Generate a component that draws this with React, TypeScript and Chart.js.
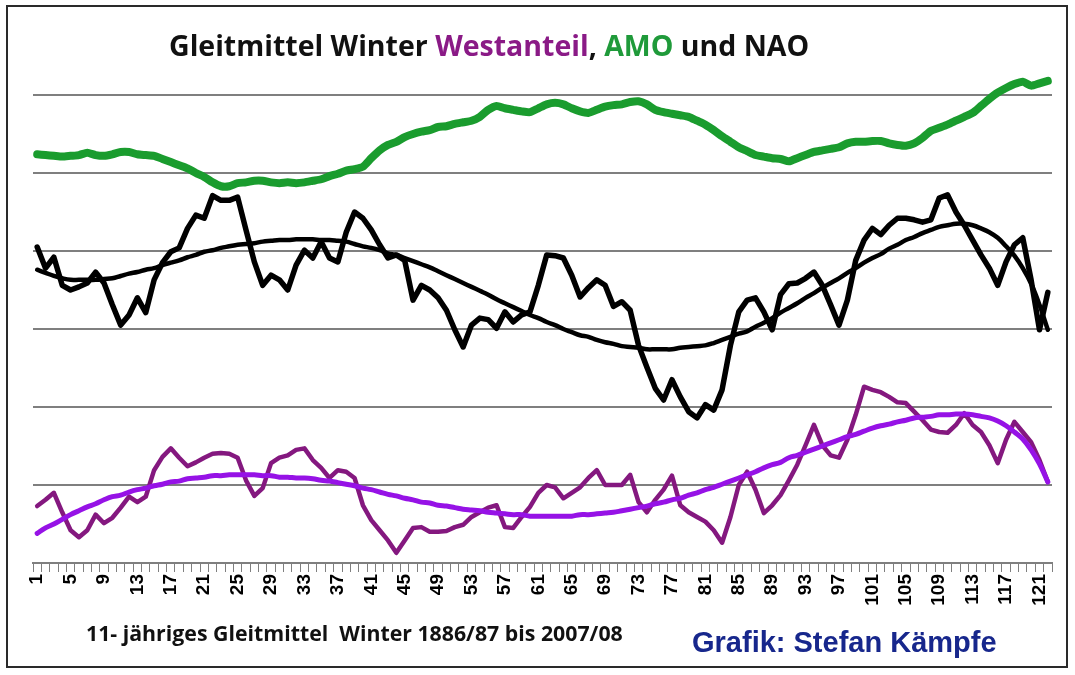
import React, { useEffect, useRef } from "react";
import { Chart, registerables } from "chart.js";

Chart.register(...registerables);

// 122 winters (11-year moving averages), category index 1..122
const categories: string[] = Array.from({ length: 122 }, (_, i) => String(i + 1));
const tickLabels: string[] = ["1", "5", "9", "13", "17", "21", "25", "29", "33", "37", "41", "45", "49", "53", "57", "61", "65", "69", "73", "77", "81", "85", "89", "93", "97", "101", "105", "109", "113", "117", "121"];

// values in chart units (one gridline step = 1)
const amo: number[] = [
  5.24, 5.23, 5.22, 5.21, 5.22, 5.23, 5.26, 5.23, 5.22, 5.24,
  5.27, 5.27, 5.24, 5.23, 5.22, 5.18, 5.14, 5.10, 5.06, 5.00,
  4.95, 4.88, 4.83, 4.83, 4.87, 4.88, 4.90, 4.90, 4.88, 4.87,
  4.88, 4.87, 4.88, 4.90, 4.92, 4.96, 4.99, 5.03, 5.05, 5.08,
  5.19, 5.29, 5.36, 5.40, 5.46, 5.50, 5.53, 5.55, 5.59, 5.60,
  5.63, 5.65, 5.67, 5.72, 5.81, 5.86, 5.83, 5.81, 5.79, 5.78,
  5.83, 5.88, 5.90, 5.88, 5.83, 5.79, 5.77, 5.81, 5.85, 5.87,
  5.88, 5.91, 5.92, 5.88, 5.81, 5.78, 5.76, 5.74, 5.72, 5.67,
  5.62, 5.55, 5.47, 5.40, 5.33, 5.28, 5.23, 5.21, 5.19, 5.18,
  5.15, 5.19, 5.23, 5.27, 5.29, 5.31, 5.33, 5.38, 5.40, 5.40,
  5.41, 5.41, 5.38, 5.36, 5.35, 5.38, 5.45, 5.54, 5.58, 5.62,
  5.67, 5.72, 5.77, 5.86, 5.95, 6.03, 6.09, 6.14, 6.17, 6.12,
  6.15, 6.18,
];

const nao: number[] = [
  4.05, 3.78, 3.92, 3.56, 3.50, 3.54, 3.59, 3.73, 3.59, 3.31,
  3.05, 3.18, 3.40, 3.21, 3.63, 3.85, 3.99, 4.04, 4.29, 4.46,
  4.42, 4.71, 4.65, 4.65, 4.69, 4.27, 3.86, 3.56, 3.69, 3.63,
  3.50, 3.82, 4.01, 3.91, 4.12, 3.91, 3.86, 4.24, 4.50, 4.42,
  4.27, 4.08, 3.91, 3.95, 3.88, 3.37, 3.56, 3.50, 3.40, 3.24,
  2.99, 2.77, 3.05, 3.14, 3.12, 3.01, 3.22, 3.09, 3.18, 3.22,
  3.56, 3.95, 3.94, 3.91, 3.69, 3.41, 3.53, 3.63, 3.56, 3.29,
  3.35, 3.24, 2.79, 2.51, 2.24, 2.09, 2.35, 2.13, 1.94, 1.86,
  2.03, 1.96, 2.22, 2.79, 3.22, 3.37, 3.40, 3.22, 2.99, 3.44,
  3.58, 3.59, 3.65, 3.73, 3.56, 3.31, 3.05, 3.37, 3.88, 4.14,
  4.29, 4.21, 4.33, 4.42, 4.42, 4.40, 4.37, 4.40, 4.68, 4.72,
  4.50, 4.33, 4.14, 3.95, 3.78, 3.56, 3.86, 4.08, 4.17, 3.63,
  2.99, 3.47,
];

const naoTrend: number[] = [
  3.76, 3.72, 3.68, 3.65, 3.63, 3.63, 3.63, 3.63, 3.64, 3.65,
  3.68, 3.71, 3.73, 3.76, 3.78, 3.82, 3.85, 3.88, 3.92, 3.95,
  3.99, 4.01, 4.04, 4.06, 4.08, 4.09, 4.10, 4.12, 4.13, 4.14,
  4.14, 4.15, 4.15, 4.15, 4.14, 4.14, 4.13, 4.12, 4.09, 4.06,
  4.04, 4.01, 3.97, 3.95, 3.91, 3.87, 3.83, 3.79, 3.74, 3.69,
  3.64, 3.59, 3.54, 3.49, 3.44, 3.38, 3.33, 3.28, 3.23, 3.18,
  3.14, 3.09, 3.05, 3.00, 2.96, 2.92, 2.90, 2.86, 2.83, 2.81,
  2.78, 2.77, 2.76, 2.74, 2.74, 2.74, 2.74, 2.76, 2.77, 2.78,
  2.79, 2.82, 2.86, 2.90, 2.94, 2.97, 3.03, 3.08, 3.14, 3.21,
  3.27, 3.33, 3.40, 3.46, 3.53, 3.59, 3.65, 3.72, 3.78, 3.85,
  3.91, 3.96, 4.03, 4.08, 4.14, 4.18, 4.23, 4.27, 4.31, 4.33,
  4.35, 4.35, 4.33, 4.29, 4.24, 4.17, 4.06, 3.94, 3.78, 3.58,
  3.31, 2.99,
];

const westanteil: number[] = [
  0.73, 0.81, 0.90, 0.65, 0.42, 0.33, 0.42, 0.62, 0.51, 0.58,
  0.71, 0.85, 0.78, 0.85, 1.19, 1.36, 1.47, 1.35, 1.24, 1.29,
  1.35, 1.40, 1.41, 1.40, 1.35, 1.06, 0.86, 0.96, 1.28, 1.35,
  1.38, 1.45, 1.47, 1.32, 1.22, 1.09, 1.19, 1.17, 1.09, 0.74,
  0.55, 0.42, 0.29, 0.13, 0.29, 0.45, 0.46, 0.40, 0.40, 0.41,
  0.46, 0.49, 0.59, 0.65, 0.71, 0.74, 0.46, 0.45, 0.59, 0.72,
  0.90, 1.00, 0.97, 0.83, 0.90, 0.97, 1.09, 1.19, 1.00, 1.00,
  1.00, 1.13, 0.78, 0.65, 0.81, 0.94, 1.12, 0.74, 0.65, 0.59,
  0.53, 0.42, 0.26, 0.59, 1.00, 1.17, 0.94, 0.64, 0.74, 0.87,
  1.06, 1.26, 1.51, 1.77, 1.51, 1.38, 1.35, 1.58, 1.90, 2.26,
  2.22, 2.19, 2.13, 2.06, 2.05, 1.94, 1.83, 1.71, 1.68, 1.67,
  1.77, 1.92, 1.77, 1.68, 1.51, 1.28, 1.58, 1.81, 1.68, 1.55,
  1.32, 1.04,
];

const westanteilTrend: number[] = [
  0.38, 0.45, 0.50, 0.56, 0.62, 0.67, 0.72, 0.76, 0.81, 0.85,
  0.87, 0.91, 0.94, 0.96, 0.99, 1.01, 1.04, 1.05, 1.08, 1.09,
  1.10, 1.12, 1.12, 1.13, 1.13, 1.13, 1.13, 1.12, 1.12, 1.10,
  1.10, 1.09, 1.09, 1.08, 1.06, 1.05, 1.03, 1.01, 0.99, 0.96,
  0.94, 0.91, 0.88, 0.86, 0.83, 0.81, 0.78, 0.77, 0.74, 0.73,
  0.71, 0.69, 0.68, 0.67, 0.65, 0.64, 0.63, 0.62, 0.62, 0.60,
  0.60, 0.60, 0.60, 0.60, 0.60, 0.62, 0.62, 0.63, 0.64, 0.65,
  0.67, 0.69, 0.71, 0.73, 0.76, 0.78, 0.81, 0.83, 0.87, 0.90,
  0.94, 0.97, 1.01, 1.05, 1.09, 1.13, 1.17, 1.22, 1.26, 1.29,
  1.35, 1.38, 1.42, 1.46, 1.50, 1.54, 1.58, 1.62, 1.65, 1.69,
  1.73, 1.76, 1.78, 1.81, 1.83, 1.86, 1.87, 1.88, 1.90, 1.90,
  1.91, 1.91, 1.90, 1.88, 1.86, 1.82, 1.76, 1.68, 1.59, 1.45,
  1.27, 1.04,
];

const COLORS = {
  amo: "#1a9c2e",
  nao: "#000000",
  west: "#84187f",
  westTrend: "#9612e6",
  grid: "#7f7f7f",
  titleWest: "#8a1a86",
  titleAmo: "#1f9a3a",
  credit: "#17278c",
};

export default function App() {
  const canvasRef = useRef<HTMLCanvasElement | null>(null);

  useEffect(() => {
    const canvas = canvasRef.current;
    if (!canvas) return;
    const line = (data: number[], color: string, width: number, tension: number) => ({
      data,
      borderColor: color,
      backgroundColor: color,
      borderWidth: width,
      pointRadius: 0,
      pointHoverRadius: 0,
      tension,
      fill: false,
      borderJoinStyle: "round" as const,
      borderCapStyle: "round" as const,
    });
    const chart = new Chart(canvas, {
      type: "line",
      data: {
        labels: categories,
        datasets: [
          { label: "Westanteil Trend", ...line(westanteilTrend, COLORS.westTrend, 5, 0.4) },
          { label: "Westanteil", ...line(westanteil, COLORS.west, 4.5, 0) },
          { label: "NAO Trend", ...line(naoTrend, COLORS.nao, 4.5, 0.4) },
          { label: "NAO", ...line(nao, COLORS.nao, 5.5, 0) },
          { label: "AMO", ...line(amo, COLORS.amo, 8, 0.2) },
        ],
      },
      options: {
        responsive: false,
        animation: false,
        devicePixelRatio: 1,
        layout: { padding: { left: 33, right: 23, top: 17, bottom: 0 } },
        plugins: {
          legend: { display: false },
          tooltip: { enabled: false },
          title: { display: false },
        },
        scales: {
          x: {
            type: "category",
            offset: true,
            grid: {
              offset: true,
              drawOnChartArea: false,
              drawTicks: true,
              tickLength: 9,
              color: COLORS.grid,
              lineWidth: 1,
            },
            border: { display: true, color: COLORS.grid, width: 2 },
            ticks: {
              autoSkip: false,
              maxRotation: 90,
              minRotation: 90,
              padding: 2,
              color: "#000",
              font: { family: "'Liberation Sans', Arial, sans-serif", weight: "bold", size: 19 },
              callback: (_v: any, i: number) => (tickLabels.includes(categories[i]) ? categories[i] : ""),
            },
            afterFit: (s: any) => {
              s.height = 112;
            },
          },
          y: {
            type: "linear",
            min: 0,
            max: 7,
            ticks: { stepSize: 1, display: false },
            grid: {
              drawTicks: false,
              lineWidth: 2,
              color: (ctx: any) =>
                ctx.tick && ctx.tick.value >= 1 && ctx.tick.value <= 6 ? COLORS.grid : "rgba(0,0,0,0)",
            },
            border: { display: false },
            afterFit: (s: any) => {
              s.width = 0;
            },
          },
        },
      },
    });
    return () => chart.destroy();
  }, []);

  return (
    <div
      style={{
        position: "absolute",
        left: 0,
        top: 0,
        width: 1075,
        height: 675,
        background: "#ffffff",
        overflow: "hidden",
      }}
    >
      <canvas ref={canvasRef} width={1075} height={675} style={{ display: "block", position: "absolute", left: 0, top: 0 }} />
      <div
        style={{
          position: "absolute",
          left: 6,
          top: 5,
          width: 1062,
          height: 663,
          border: "2px solid #2a2a2a",
          boxSizing: "border-box",
          pointerEvents: "none",
        }}
      />
      <div
        style={{
          position: "absolute",
          left: 169,
          top: 26,
          whiteSpace: "pre",
          fontFamily: "'Open Sans', 'Noto Sans', sans-serif",
          fontWeight: 700,
          fontSize: 28.5,
          color: "#111",
          lineHeight: "38px",
        }}
      >
        <span>Gleitmittel Winter </span>
        <span style={{ color: COLORS.titleWest }}>Westanteil</span>
        <span>, </span>
        <span style={{ color: COLORS.titleAmo }}>AMO</span>
        <span> und NAO</span>
      </div>
      <div
        style={{
          position: "absolute",
          left: 86,
          top: 618,
          whiteSpace: "pre",
          fontFamily: "'Open Sans', 'Noto Sans', sans-serif",
          fontWeight: 700,
          fontSize: 21.3,
          color: "#111",
          lineHeight: "30px",
        }}
      >
        {"11- jähriges Gleitmittel  Winter 1886/87 bis 2007/08"}
      </div>
      <div
        style={{
          position: "absolute",
          left: 692,
          top: 626,
          whiteSpace: "pre",
          fontFamily: "'Liberation Sans', Arial, sans-serif",
          fontWeight: 700,
          fontSize: 29,
          color: COLORS.credit,
          lineHeight: "32px",
        }}
      >
        {"Grafik: Stefan Kämpfe"}
      </div>
    </div>
  );
}
